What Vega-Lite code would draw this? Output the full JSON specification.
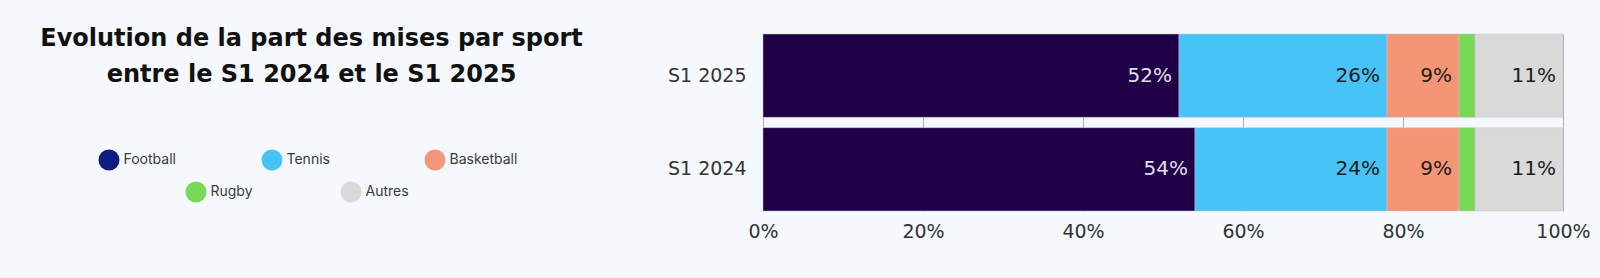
{
  "$schema": "https://vega.github.io/schema/vega-lite/v6.json",
  "width": 800,
  "height": 177,
  "autosize": {"type": "none"},
  "padding": {"left": 763, "top": 34, "right": 37, "bottom": 67},
  "background": "#f5f8fc",
  "config": {
    "view": {"stroke": null, "fill": "#fbfcfe"},
    "font": "DejaVu Sans"
  },
  "data": {
    "values": [
      {"period": "S1 2025", "sport": "Football", "share": 0.52},
      {"period": "S1 2025", "sport": "Tennis", "share": 0.26},
      {"period": "S1 2025", "sport": "Basketball", "share": 0.09},
      {"period": "S1 2025", "sport": "Rugby", "share": 0.02},
      {"period": "S1 2025", "sport": "Autres", "share": 0.11},
      {"period": "S1 2024", "sport": "Football", "share": 0.54},
      {"period": "S1 2024", "sport": "Tennis", "share": 0.24},
      {"period": "S1 2024", "sport": "Basketball", "share": 0.09},
      {"period": "S1 2024", "sport": "Rugby", "share": 0.02},
      {"period": "S1 2024", "sport": "Autres", "share": 0.11}
    ]
  },
  "layer": [
    {
      "transform": [{"stack": "share", "groupby": ["period"], "as": ["x0", "x1"]}],
      "mark": {"type": "bar", "stroke": "#c4c6d0", "strokeWidth": 0.5},
      "encoding": {
        "y": {
          "field": "period",
          "type": "nominal",
          "sort": ["S1 2025", "S1 2024"],
          "scale": {"paddingInner": 0.11, "paddingOuter": 0},
          "axis": {
            "title": ["Evolution de la part des mises par sport", "entre le S1 2024 et le S1 2025"],
            "titleAngle": 0,
            "titleX": -452,
            "titleY": 11,
            "titleAlign": "center",
            "titleBaseline": "alphabetic",
            "titleFont": "DejaVu Sans",
            "titleFontSize": 24,
            "titleFontWeight": "bold",
            "titleColor": "#111111",
            "titleLineHeight": 36,
            "labelFont": "DejaVu Sans",
            "labelFontSize": 19,
            "labelColor": "#333333",
            "labelPadding": 17,
            "ticks": false,
            "domain": false
          }
        },
        "x": {
          "field": "x0",
          "type": "quantitative",
          "scale": {"domain": [0, 1], "nice": false},
          "axis": {
            "title": null,
            "values": [0, 0.2, 0.4, 0.6, 0.8, 1],
            "format": ".0%",
            "grid": true,
            "gridColor": "#b0b0b0",
            "gridWidth": 1,
            "domain": false,
            "ticks": false,
            "labelFlush": false,
            "labelPadding": 11,
            "labelFont": "DejaVu Sans",
            "labelFontSize": 19,
            "labelColor": "#333333"
          }
        },
        "x2": {"field": "x1"},
        "fill": {
          "field": "sport",
          "type": "nominal",
          "scale": {
            "domain": ["Football", "Tennis", "Basketball", "Rugby", "Autres"],
            "range": ["#1f0047", "#48c3f8", "#f49577", "#79d957", "#d9d9d9"]
          },
          "legend": {
            "values": ["Rugby", "Autres"],
            "title": null,
            "orient": "none",
            "legendX": -577.5,
            "legendY": 147.5,
            "direction": "horizontal",
            "symbolType": "circle",
            "symbolSize": 441,
            "symbolStrokeWidth": 0,
            "symbolOpacity": 1,
            "labelFont": "Inter",
            "labelFontSize": 14,
            "labelColor": "#3a3a3a",
            "labelOffset": 4,
            "columnPadding": 86,
            "gridAlign": "all"
          }
        }
      }
    },
    {
      "transform": [
        {"stack": "share", "groupby": ["period"], "as": ["x0", "x1"]},
        {"filter": "datum.sport !== 'Rugby'"}
      ],
      "mark": {"type": "text", "align": "right", "baseline": "middle", "dx": -7, "fontSize": 20, "font": "DejaVu Sans"},
      "encoding": {
        "y": {"field": "period", "type": "nominal", "sort": ["S1 2025", "S1 2024"]},
        "x": {"field": "x1", "type": "quantitative"},
        "text": {"field": "share", "type": "quantitative", "format": ".0%"},
        "color": {
          "condition": {"test": "datum.sport === 'Football'", "value": "#e4def0"},
          "value": "#1c1c1c"
        }
      }
    },
    {
      "transform": [{"filter": {"field": "sport", "oneOf": ["Football", "Tennis", "Basketball"]}}],
      "mark": {"type": "point", "filled": true, "opacity": 0},
      "encoding": {
        "color": {
          "field": "sport",
          "type": "nominal",
          "scale": {
            "domain": ["Football", "Tennis", "Basketball"],
            "range": ["#0b1b7f", "#4ac3f7", "#f4967a"]
          },
          "legend": {
            "title": null,
            "orient": "none",
            "legendX": -664.5,
            "legendY": 115.5,
            "direction": "horizontal",
            "symbolType": "circle",
            "symbolSize": 441,
            "symbolStrokeWidth": 0,
            "symbolOpacity": 1,
            "labelFont": "Inter",
            "labelFontSize": 14,
            "labelColor": "#3a3a3a",
            "labelOffset": 4,
            "columnPadding": 70,
            "gridAlign": "all"
          }
        }
      }
    }
  ]
}
